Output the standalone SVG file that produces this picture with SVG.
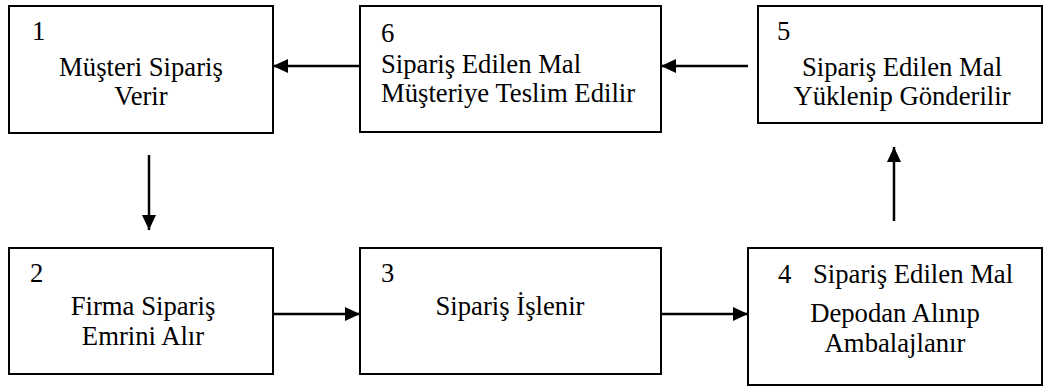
<svg xmlns="http://www.w3.org/2000/svg" width="1044" height="389" viewBox="0 0 1044 389">
  <style>
    .box { fill: #ffffff; stroke: #000000; stroke-width: 2; }
    .c { text-anchor: middle; }
    .link { stroke: #000000; stroke-width: 2.5; fill: none; marker-end: url(#head); }
  </style>
  <defs>
    <marker id="head" markerUnits="userSpaceOnUse" markerWidth="16" markerHeight="14" refX="15" refY="7" orient="auto">
      <path d="M0,0 L15,7 L0,14 Z" fill="#000000"/>
    </marker>
  </defs>
  <rect width="1044" height="389" fill="#ffffff"/>

  <!-- process steps -->
  <g font-family="'Liberation Serif', 'Times New Roman', serif" font-size="26.7" fill="#000000">
  <g id="node-1">
    <rect class="box" x="9" y="6" width="264" height="127"/>
    <text x="32" y="40">1</text>
    <text class="c" x="141" y="76">Müşteri Sipariş</text>
    <text class="c" x="141" y="105">Verir</text>
  </g>

  <g id="node-6">
    <rect class="box" x="360" y="6" width="301" height="126"/>
    <text x="381" y="42">6</text>
    <text x="381" y="73">Sipariş Edilen Mal</text>
    <text x="381" y="102">Müşteriye Teslim Edilir</text>
  </g>

  <g id="node-5">
    <rect class="box" x="758" y="6" width="284" height="117"/>
    <text x="777" y="40">5</text>
    <text class="c" x="902" y="76">Sipariş Edilen Mal</text>
    <text class="c" x="902" y="105">Yüklenip Gönderilir</text>
  </g>

  <g id="node-2">
    <rect class="box" x="9" y="248" width="264" height="126"/>
    <text x="30" y="282">2</text>
    <text class="c" x="143" y="315">Firma Sipariş</text>
    <text class="c" x="143" y="345">Emrini Alır</text>
  </g>

  <g id="node-3">
    <rect class="box" x="360" y="248" width="301" height="126"/>
    <text x="381" y="282">3</text>
    <text class="c" x="510" y="315">Sipariş İşlenir</text>
  </g>

  <g id="node-4">
    <rect class="box" x="748" y="248" width="294" height="137"/>
    <text x="778" y="283">4</text>
    <text x="813" y="283">Sipariş Edilen Mal</text>
    <text class="c" x="895" y="322">Depodan Alınıp</text>
    <text class="c" x="895" y="352">Ambalajlanır</text>
  </g>
  </g>

  <g id="connectors">
    <line class="link" x1="149" y1="155" x2="149" y2="230"/>
    <line class="link" x1="273" y1="314" x2="360" y2="314"/>
    <line class="link" x1="661" y1="314" x2="748" y2="314"/>
    <line class="link" x1="894" y1="221" x2="894" y2="147"/>
    <line class="link" x1="748" y1="66" x2="661" y2="66"/>
    <line class="link" x1="360" y1="66" x2="273" y2="66"/>
  </g>
</svg>
